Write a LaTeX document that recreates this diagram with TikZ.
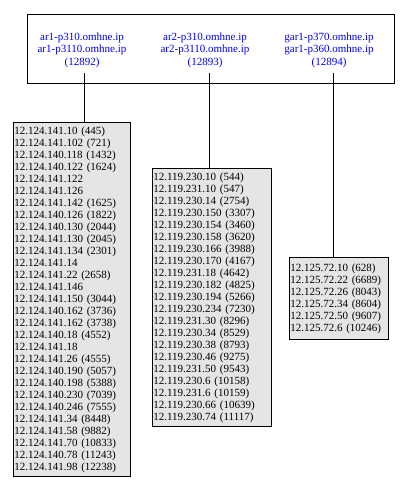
\documentclass[tikz,border=0pt]{standalone}
\usepackage{fontspec}
\setmainfont{Liberation Serif}
\definecolor{hdrblue}{RGB}{0,0,255}
\definecolor{listgray}{RGB}{229,229,229}
\begin{document}
\begin{tikzpicture}[x=1bp,y=-1bp,
  hdr/.style={text=hdrblue, align=center, font=\fontsize{11bp}{12.5bp}\selectfont, inner sep=0pt},
  listbox/.style={draw=black, fill=listgray, line width=0.8bp, anchor=north west, align=left,
    font=\fontsize{11bp}{12bp}\selectfont, inner xsep=1bp, inner ysep=0pt},
  conn/.style={draw=black, line width=0.8bp}]
\useasboundingbox (0,0) rectangle (418,489);
\node[draw=black, fill=white, line width=0.8bp, minimum width=367bp, minimum height=69bp, anchor=north west, inner sep=0pt] (top) at (27,14) {};
\node[hdr] (h1) at (82,50) {ar1-p310.omhne.ip\\ar1-p3110.omhne.ip\\(12892)};
\node[hdr] (h2) at (205,50) {ar2-p310.omhne.ip\\ar2-p3110.omhne.ip\\(12893)};
\node[hdr] (h3) at (329,50) {gar1-p370.omhne.ip\\gar1-p360.omhne.ip\\(12894)};
\coordinate (c1) at (84,73);
\coordinate (c2) at (209,73);
\coordinate (c3) at (333,73);
\node[listbox, text width=115bp, minimum height=354bp] (b1) at (13,122) {%
12.124.141.10 (445)\\12.124.141.102 (721)\\12.124.140.118 (1432)\\12.124.140.122 (1624)\\12.124.141.122\\12.124.141.126\\12.124.141.142 (1625)\\12.124.140.126 (1822)\\12.124.140.130 (2044)\\12.124.141.130 (2045)\\12.124.141.134 (2301)\\12.124.141.14\\12.124.141.22 (2658)\\12.124.141.146\\12.124.141.150 (3044)\\12.124.140.162 (3736)\\12.124.141.162 (3738)\\12.124.140.18 (4552)\\12.124.141.18\\12.124.141.26 (4555)\\12.124.140.190 (5057)\\12.124.140.198 (5388)\\12.124.140.230 (7039)\\12.124.140.246 (7555)\\12.124.141.34 (8448)\\12.124.141.58 (9882)\\12.124.141.70 (10833)\\12.124.140.78 (11243)\\12.124.141.98 (12238)};
\node[listbox, text width=117bp, minimum height=258bp] (b2) at (152,168) {%
12.119.230.10 (544)\\12.119.231.10 (547)\\12.119.230.14 (2754)\\12.119.230.150 (3307)\\12.119.230.154 (3460)\\12.119.230.158 (3620)\\12.119.230.166 (3988)\\12.119.230.170 (4167)\\12.119.231.18 (4642)\\12.119.230.182 (4825)\\12.119.230.194 (5266)\\12.119.230.234 (7230)\\12.119.231.30 (8296)\\12.119.230.34 (8529)\\12.119.230.38 (8793)\\12.119.230.46 (9275)\\12.119.231.50 (9543)\\12.119.230.6 (10158)\\12.119.231.6 (10159)\\12.119.230.66 (10639)\\12.119.230.74 (11117)};
\node[listbox, text width=97bp, minimum height=82bp] (b3) at (289,257) {%
12.125.72.10 (628)\\12.125.72.22 (6689)\\12.125.72.26 (8043)\\12.125.72.34 (8604)\\12.125.72.50 (9607)\\12.125.72.6 (10246)};
\draw[conn] (c1) -- (c1 |- b1.north);
\draw[conn] (c2) -- (c2 |- b2.north);
\draw[conn] (c3) -- (c3 |- b3.north);
\end{tikzpicture}
\end{document}
